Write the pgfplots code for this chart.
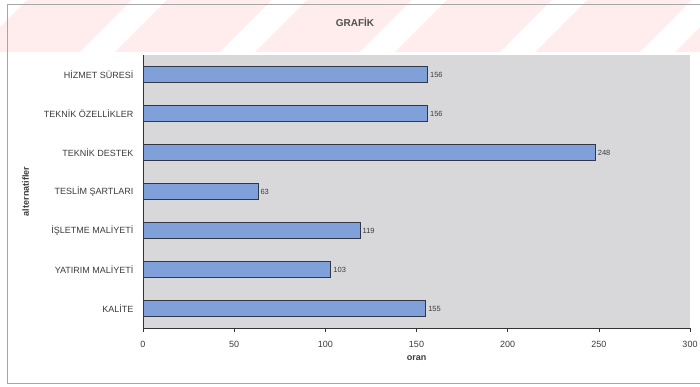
\documentclass[border=0pt]{standalone}
\usepackage{pgfplots}
\pgfplotsset{compat=1.18}
\usepackage{fontspec}
\setmainfont{Liberation Sans}
\definecolor{plotbg}{RGB}{216,216,218}
\definecolor{barfill}{RGB}{128,160,218}
\definecolor{bardraw}{RGB}{50,55,70}
\definecolor{txt}{RGB}{60,60,60}
\begin{document}
\begin{tikzpicture}[x=1pt,y=1pt]
\path[use as bounding box] (0,0) rectangle (700,387);
\fill[white] (0,0) rectangle (700,387);
% faint pink scan band at top
\fill[red!7] (0,335) rectangle (700,387);
\foreach \s in {0,140,280,420,560,700}{
  \fill[white] (\s-60,335) -- (\s-25,335) -- (\s+27,387) -- (\s-8,387) -- cycle;
}
\draw[gray!70, line width=0.8pt] (7,4) -- (7,383) -- (700,383);
\draw[gray!70, line width=0.8pt] (7,4) -- (700,4);
\node[font=\bfseries\fontsize{10}{12}\selectfont, text=txt!90] at (355,365) {GRAFİK};
\begin{axis}[
  at={(143pt,59pt)}, anchor=south west,
  scale only axis, width=547pt, height=273pt,
  xmin=0, xmax=300, ymin=-0.5, ymax=6.5,
  xbar, bar width=16pt,
  axis background/.style={fill=plotbg},
  axis lines=left, axis line style={-, black!80, line width=0.6pt},
  xtick={0,50,...,300},
  ytick={0,...,6},
  yticklabels={KALİTE, YATIRIM MALİYETİ, İŞLETME MALİYETİ, TESLİM ŞARTLARI, TEKNİK DESTEK, TEKNİK ÖZELLİKLER, HİZMET SÜRESİ},
  minor ytick={-0.5,0.5,...,6.5},
  ytick style={draw=none},
  xtick style={black!80, line width=0.6pt},
  major tick length=4pt,
  minor tick length=5pt,
  tick align=outside,
  minor tick style={black!80, line width=0.6pt},
  /pgf/number format/assume math mode=true,
  ticklabel style={font=\fontsize{9}{10}\selectfont, text=txt},
  xticklabel style={yshift=-6pt},
  yticklabel style={xshift=-2pt},
  xlabel={oran},
  ylabel={alternatifler},
  label style={font=\bfseries\fontsize{9}{10}\selectfont, text=txt},
  xlabel style={yshift=-1pt},
  ylabel style={yshift=8pt},
  nodes near coords,
  every node near coord/.append style={font=\fontsize{7.5}{9}\selectfont, text=txt, anchor=west, xshift=-1pt},
  clip=false,
]
\addplot[fill=barfill, draw=bardraw, line width=0.7pt] coordinates {
(155,0) (103,1) (119,2) (63,3) (248,4) (156,5) (156,6)
};
\end{axis}
\end{tikzpicture}
\end{document}
